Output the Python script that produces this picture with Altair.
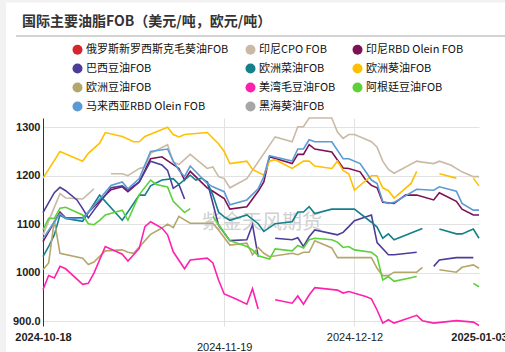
import altair as alt
import pandas as pd

start_date = "2024-10-18"
tick_dates = ["2024-10-18", "2024-11-19", "2024-12-12", "2025-01-03"]
title_text = "国际主要油脂FOB（美元/吨，欧元/吨）"
watermark_text = "紫金天风期货"

series_names = [
    "俄罗斯新罗西斯克毛葵油FOB", "印尼CPO FOB", "印尼RBD Olein FOB",
    "巴西豆油FOB", "欧洲菜油FOB", "欧洲葵油FOB",
    "欧洲豆油FOB", "美湾毛豆油FOB", "阿根廷豆油FOB",
    "马来西亚RBD Olein FOB", "黑海葵油FOB",
]
series_colors = [
    "#d4262e", "#c9baa6", "#7d1156",
    "#4e3c99", "#15808a", "#ffc000",
    "#b4a76c", "#ff21ad", "#5cd13a",
    "#5b9bd5", "#a6a6a6",
]
# legend fills column by column (4 rows x 3 columns)
legend_order = [
    "俄罗斯新罗西斯克毛葵油FOB", "巴西豆油FOB", "欧洲豆油FOB", "马来西亚RBD Olein FOB",
    "印尼CPO FOB", "欧洲菜油FOB", "美湾毛豆油FOB", "黑海葵油FOB",
    "印尼RBD Olein FOB", "欧洲葵油FOB", "阿根廷豆油FOB",
]

# day offsets from start_date and values; None marks a break in the line
ru_sun_days = []
ru_sun_vals = []

cpo_days = [0, 3, 4, 7, 9, None, 12, 14, 15, 17, 18, 19, 22, 23, 24, 26, 29, 30, 31, 32, 33, 36, 41, 44, 45, 46, 47, 51, 52, 53, 54, 55, 57, 58, 59, 60, 61, 62, 66, 67, 69, 70, 72, 74, 76, 77]
cpo_vals = [1078, 1163, 1154, 1152, 1173, None, 1204, 1204, 1200, 1215, 1218, 1246, 1264, 1228, 1223, 1244, 1215, 1218, 1198, 1194, 1175, 1194, 1280, 1270, 1301, 1301, 1319, 1319, 1290, 1277, 1285, 1285, 1275, 1270, 1259, 1230, 1213, 1205, 1230, 1228, 1225, 1230, 1222, 1208, 1198, 1198]

idn_rbd_days = [0, 3, 4, 7, 9, 12, 14, 15, 17, 19, 21, 24, 25, 26, 29, 30, 32, 33, 36, 38, 39, 40, 44, 45, 46, 47, 48, 51, 53, 54, 56, 57, 58, 59, 60, 62, 64, 66, 69, 70, 73, 74, 76, 77]
idn_rbd_vals = [1064, 1125, 1113, 1113, 1136, 1171, 1177, 1167, 1187, 1235, 1239, 1215, 1191, 1209, 1175, 1168, 1153, 1131, 1136, 1168, 1187, 1239, 1225, 1244, 1244, 1264, 1255, 1249, 1216, 1215, 1208, 1191, 1180, 1175, 1145, 1143, 1160, 1160, 1150, 1165, 1147, 1131, 1119, 1119]

bra_soy_days = [0, 2, 3, 4, 6, 7, 8, 9, 12, 14, 15, 17, 19, 21, 22, 23, 24, 25, None, 29, 31, 33, 36, 37, 38, None, 41, 44, 45, 46, 47, 48, 52, 53, 54, 55, 58, 59, 61, 62, 66, None, 69, 70, 73, 76]
bra_soy_vals = [1124, 1165, 1176, 1169, 1150, 1132, 1113, 1129, 1175, 1179, 1170, 1187, 1230, 1222, 1211, 1174, 1182, 1152, None, 1188, 1098, 1066, 1068, 1099, 1033, None, 1071, 1068, 1072, 1054, 1074, 1088, 1078, 1083, 1095, 1107, 1119, 1062, 1037, 1037, 1042, None, 1013, 1026, 1031, 1031]

eu_rape_days = [0, 1, 2, 3, 4, 7, 10, 14, 17, 18, 19, 21, 23, 24, 26, 27, 28, 29, 30, 31, 32, 33, 36, 38, 39, 41, 44, 45, 46, 47, 48, 51, 55, 58, 59, 60, 61, 62, 67, None, 70, 73, 74, 76, 77]
eu_rape_vals = [1033, 1054, 1078, 1119, 1112, 1106, 1160, 1108, 1160, 1160, 1179, 1191, 1194, 1182, 1201, 1191, 1195, 1187, 1160, 1125, 1115, 1108, 1119, 1101, 1085, 1101, 1105, 1125, 1125, 1136, 1122, 1131, 1131, 1104, 1094, 1071, 1080, 1068, 1091, None, 1090, 1080, 1080, 1090, 1071]

eu_sun_days = [0, 1, 3, 7, 8, 10, 11, 14, 16, 17, 18, 22, 23, 24, 25, 29, 31, 32, 33, 36, 37, 39, 40, 41, 44, 46, 47, 48, 51, 52, 53, 54, 55, 58, 59, 60, 61, 62, 65, 66, None, 70, 73, None, 76, 77]
eu_sun_vals = [1195, 1213, 1250, 1230, 1246, 1267, 1289, 1281, 1270, 1270, 1281, 1300, 1285, 1280, 1285, 1289, 1266, 1250, 1225, 1230, 1213, 1201, 1230, 1233, 1215, 1230, 1230, 1220, 1215, 1230, 1211, 1204, 1170, 1200, 1200, 1175, 1169, 1154, 1184, 1209, None, 1204, 1195, None, 1195, 1179]

eu_soy_days = [0, 1, 2, 3, 7, 8, 9, 11, 14, 15, 16, 19, 21, 22, 23, 24, 25, 26, 30, 31, 33, 36, 37, 38, 39, 40, 44, 45, 46, 47, 48, 51, 52, 58, 59, 60, 61, 62, 66, 67, None, 70, 73, 74, 76, 77]
eu_soy_vals = [1006, 1020, 1108, 1040, 1030, 1017, 1022, 1045, 1047, 1042, 1040, 1079, 1092, 1100, 1093, 1116, 1109, 1102, 1102, 1088, 1057, 1061, 1037, 1052, 1040, 1033, 1040, 1037, 1042, 1042, 1066, 1051, 1031, 1031, 1009, 994, 994, 1001, 1001, 1011, None, 1006, 1001, 1011, 1016, 1009]

us_gulf_days = [0, 1, 2, 3, 4, 7, 8, 9, 11, 14, 15, 17, 18, 19, 21, 22, 23, 25, 26, 29, 30, 31, 32, 34, 36, 37, 38, None, 41, 44, 45, 46, 47, 48, 52, 53, 54, 57, 58, 59, 60, 61, 62, 66, 67, 69, 73, 76, 77]
us_gulf_vals = [965, 994, 989, 1013, 1008, 976, 978, 999, 1054, 1038, 1024, 1050, 1095, 1105, 1092, 1078, 1043, 1008, 1026, 1030, 1020, 985, 956, 946, 935, 967, 925, None, 944, 937, 952, 935, 954, 969, 964, 958, 961, 951, 946, 923, 896, 903, 896, 912, 901, 896, 901, 898, 891]

arg_soy_days = [0, 1, 2, 3, 4, 7, 8, 9, 10, 11, 14, 15, 17, 19, 20, 22, 23, 25, 26, None, 30, 33, 36, 37, 38, 40, 41, 44, 45, 46, 47, 48, 51, 52, 53, 54, 55, 58, 59, 60, 61, 62, 66, None, 76, 77]
arg_soy_vals = [1088, 1112, 1112, 1133, 1135, 1119, 1101, 1099, 1108, 1119, 1129, 1108, 1161, 1191, 1182, 1177, 1147, 1124, 1132, None, 1116, 1066, 1054, 1047, 1035, 1028, 1049, 1045, 1056, 1051, 1068, 1071, 1068, 1063, 1052, 1054, 1047, 1042, 1033, 985, 992, 982, 992, None, 978, 971]

my_rbd_days = [0, 3, 4, 7, 9, 12, 14, 15, 17, 19, 22, 23, 24, 25, 26, 29, 30, 32, 33, 36, 38, 39, 40, 44, 45, 46, 47, 48, 51, 53, 54, 56, 57, 58, 59, 60, 61, 62, 66, 69, 70, 73, 74, 76, 77]
my_rbd_vals = [1070, 1122, 1112, 1112, 1138, 1180, 1187, 1173, 1194, 1250, 1255, 1230, 1211, 1198, 1220, 1184, 1177, 1167, 1140, 1150, 1173, 1198, 1241, 1230, 1255, 1255, 1274, 1270, 1270, 1235, 1235, 1225, 1208, 1191, 1184, 1147, 1143, 1145, 1172, 1170, 1177, 1168, 1143, 1129, 1129]

bsea_sun_days = []
bsea_sun_vals = []

series_data = [
    (ru_sun_days, ru_sun_vals), (cpo_days, cpo_vals), (idn_rbd_days, idn_rbd_vals),
    (bra_soy_days, bra_soy_vals), (eu_rape_days, eu_rape_vals), (eu_sun_days, eu_sun_vals),
    (eu_soy_days, eu_soy_vals), (us_gulf_days, us_gulf_vals), (arg_soy_days, arg_soy_vals),
    (my_rbd_days, my_rbd_vals), (bsea_sun_days, bsea_sun_vals),
]

t0 = pd.Timestamp(start_date)
rows = []
for name, (days, vals) in zip(series_names, series_data):
    seg = 0
    for d, v in zip(days, vals):
        if v is None:
            seg += 1
            continue
        rows.append({
            "series": name,
            "seg": f"{name}-{seg}",
            "day": d,
            "date": (t0 + pd.Timedelta(days=d)).strftime("%Y-%m-%d"),
            "value": v,
        })
df = pd.DataFrame(rows)

tick_days = [(pd.Timestamp(t) - t0).days for t in tick_dates]
last_day = tick_days[-1]
label_expr = ""
for d, t in zip(tick_days, tick_dates):
    label_expr += f"datum.value == {d} ? '{t}' : "
label_expr += "''"

grid_test = " || ".join(f"datum.value == {d}" for d in tick_days[1:-1])
bold_test = f"datum.value == {tick_days[0]} || datum.value == {last_day}"
low_test = f"datum.value == {tick_days[1]}"

x_enc = alt.X(
    "day:Q",
    scale=alt.Scale(domain=[0, last_day], nice=False, zero=False),
    axis=alt.Axis(
        values=tick_days, labelExpr=label_expr, title=None, domain=False, ticks=False,
        grid=True, gridColor="#e2e2e2",
        gridOpacity={"condition": {"test": grid_test, "value": 1}, "value": 0},
        labelFont="Liberation Sans", labelFontSize=11, labelColor="#222",
        labelFontWeight={"condition": {"test": bold_test, "value": "bold"}, "value": "normal"},
        labelPadding={"condition": {"test": low_test, "value": 15}, "value": 5},
        labelFlush=False, labelOverlap=False, labelBound=False,
    ),
)
y_enc = alt.Y(
    "value:Q",
    scale=alt.Scale(domain=[890, 1319], nice=False, zero=False),
    axis=alt.Axis(
        values=[900, 1000, 1100, 1200, 1300],
        labelExpr="datum.value == 900 ? '900.0' : format(datum.value, 'd')",
        title=None, domain=True, domainColor="#333", ticks=False, labelPadding=3,
        labelFont="Liberation Sans", labelFontSize=11, labelFontWeight="bold", labelColor="#222",
        grid=True, gridColor="#e2e2e2",
    ),
)
color_of = dict(zip(series_names, series_colors))
color_scale = alt.Scale(domain=legend_order, range=[color_of[n] for n in legend_order])

base = alt.Chart(df)

legend_layer = base.mark_point(filled=True, opacity=1, size=100).encode(
    x=x_enc, y=y_enc,
    color=alt.Color(
        "series:N", scale=color_scale,
        legend=alt.Legend(
            title=None, orient="none", legendX=29, legendY=-74, columns=3,
            columnPadding=16, rowPadding=7, symbolType="circle", symbolSize=100,
            symbolStrokeWidth=0, labelFont="Noto Sans CJK SC", labelFontSize=11,
            labelColor="#111", labelOffset=3, padding=0, labelLimit=300,
        ),
    ),
).transform_filter("false")

lines = base.mark_line(strokeWidth=1.6).encode(
    x=x_enc, y=y_enc,
    color=alt.Color("series:N", scale=color_scale),
    detail="seg:N",
    order="day:Q",
)

one = pd.DataFrame({"t": [title_text]})
wm = pd.DataFrame({"t": [watermark_text]})

left_strip = alt.Chart(one).mark_rect(color="#f2f2f2").encode(
    x=alt.value(-43), x2=alt.value(-37), y=alt.value(-118), y2=alt.value(234))
top_strip = alt.Chart(one).mark_rect(color="#f2f2f2").encode(
    x=alt.value(-43), x2=alt.value(462), y=alt.value(-118), y2=alt.value(-115.5))
title_mark = alt.Chart(one).mark_text(
    align="left", baseline="middle", font="Noto Sans CJK SC", fontSize=14,
    fontWeight="bold", color="#333").encode(
    x=alt.value(-21), y=alt.value(-96.5), text="t:N")
sep_rule = alt.Chart(one).mark_rule(color="#a6a6a6", strokeWidth=1).encode(
    x=alt.value(-27), x2=alt.value(462), y=alt.value(-82))
watermark = alt.Chart(wm).mark_text(
    align="center", baseline="middle", font="Noto Sans CJK SC", fontSize=20,
    color="#d0d0d0").encode(x=alt.value(219), y=alt.value(105), text="t:N")

chart = alt.layer(
    legend_layer, left_strip, top_strip, title_mark, sep_rule, watermark, lines
).properties(
    width=436, height=208,
    autosize=alt.AutoSizeParams(type="none"),
    padding={"left": 43, "top": 118, "right": 26, "bottom": 26},
    background="white",
).configure_view(stroke=None)

chart.save("out.html", embed_options={"renderer": "svg", "actions": False})
